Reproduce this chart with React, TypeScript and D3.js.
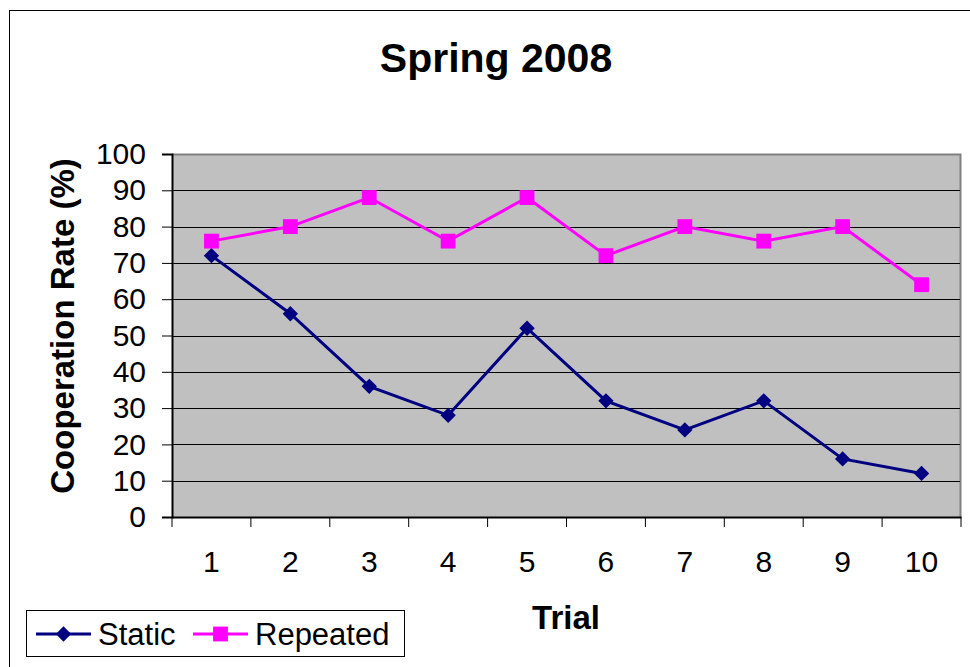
import React, { useEffect, useRef } from 'react';
import * as d3 from 'd3';

const trials = ['1', '2', '3', '4', '5', '6', '7', '8', '9', '10'];
const staticRate = [72, 56, 36, 28, 52, 32, 24, 32, 16, 12];
const repeatedRate = [76, 80, 88, 76, 88, 72, 80, 76, 80, 64];
const yTicks = [0, 10, 20, 30, 40, 50, 60, 70, 80, 90, 100];

const FONT = '"Liberation Sans", Arial, sans-serif';

export default function App() {
  const svgRef = useRef<SVGSVGElement | null>(null);

  useEffect(() => {
    if (!svgRef.current) return;
    const svg = d3.select(svgRef.current);
    svg.selectAll('*').remove();

    const width = 970;
    const height = 667;
    const plot = { left: 172, top: 154, right: 961, bottom: 517 };

    svg.attr('width', width).attr('height', height);

    // white background + outer chart border
    svg.append('rect').attr('width', width).attr('height', height).attr('fill', '#fff');
    svg.append('rect')
      .attr('x', 9.5).attr('y', 10.5)
      .attr('width', width + 20).attr('height', height + 20)
      .attr('fill', 'none').attr('stroke', '#000').attr('stroke-width', 1);

    const x = d3.scaleBand<string>().domain(trials).range([plot.left, plot.right]);
    const y = d3.scaleLinear().domain([0, 100]).range([plot.bottom, plot.top]);
    const cx = (i: number) => (x(trials[i]) as number) + x.bandwidth() / 2;

    // plot area
    svg.append('rect')
      .attr('x', plot.left).attr('y', plot.top)
      .attr('width', plot.right - plot.left).attr('height', plot.bottom - plot.top)
      .attr('fill', '#c0c0c0');
    svg.append('path')
      .attr('d', `M${plot.left},${plot.top + 0.5}H${plot.right - 0.5}V${plot.bottom}`)
      .attr('fill', 'none').attr('stroke', '#808080').attr('stroke-width', 2);

    // gridlines
    svg.append('g')
      .selectAll('line')
      .data(yTicks.filter((t) => t > 0 && t < 100))
      .enter()
      .append('line')
      .attr('x1', plot.left).attr('x2', plot.right - 1)
      .attr('y1', (d) => Math.round(y(d)) + 0.5).attr('y2', (d) => Math.round(y(d)) + 0.5)
      .attr('stroke', '#000').attr('stroke-width', 1);

    // y axis
    const yAxis = d3.axisLeft(y).tickValues(yTicks).tickSize(10).tickPadding(16);
    const yg = svg.append('g').attr('transform', `translate(${plot.left},0)`).call(yAxis);
    yg.select('.domain').attr('stroke', '#000').attr('stroke-width', 2);
    yg.selectAll('.tick line').attr('stroke', '#000');
    yg.selectAll('.tick text')
      .attr('fill', '#000')
      .style('font-family', FONT)
      .style('font-size', '30px');

    // x axis
    const xAxis = d3.axisBottom(x).tickSize(0).tickPadding(34);
    const xg = svg.append('g').attr('transform', `translate(0,${plot.bottom})`).call(xAxis);
    xg.select('.domain').attr('stroke', '#000').attr('stroke-width', 2);
    xg.selectAll('.tick text')
      .attr('fill', '#000')
      .style('font-family', FONT)
      .style('font-size', '30px');
    // category boundary ticks
    xg.selectAll('.sep')
      .data(d3.range(trials.length + 1))
      .enter()
      .append('line')
      .attr('class', 'sep')
      .attr('x1', (i) => plot.left + i * x.step()).attr('x2', (i) => plot.left + i * x.step())
      .attr('y1', 0).attr('y2', 10)
      .attr('stroke', '#000');

    // titles
    svg.append('text')
      .attr('x', 496).attr('y', 72)
      .attr('text-anchor', 'middle')
      .style('font-family', FONT).style('font-size', '41px').style('font-weight', 'bold')
      .text('Spring 2008');
    svg.append('text')
      .attr('x', 566).attr('y', 629)
      .attr('text-anchor', 'middle')
      .style('font-family', FONT).style('font-size', '33px').style('font-weight', 'bold')
      .text('Trial');
    svg.append('text')
      .attr('transform', `translate(74,326) rotate(-90)`)
      .attr('text-anchor', 'middle')
      .style('font-family', FONT).style('font-size', '33px').style('font-weight', 'bold')
      .text('Cooperation Rate (%)');

    const line = d3.line<number>().x((_, i) => cx(i)).y((d) => y(d));

    const diamond = d3.symbol().type(d3.symbolDiamond2).size(150);
    const square = d3.symbol().type(d3.symbolSquare).size(220);

    // Static series
    svg.append('path').datum(staticRate)
      .attr('d', line).attr('fill', 'none').attr('stroke', '#000080').attr('stroke-width', 3);
    svg.append('g').selectAll('path').data(staticRate).enter().append('path')
      .attr('transform', (d, i) => `translate(${cx(i)},${y(d)})`)
      .attr('d', diamond).attr('fill', '#000080');

    // Repeated series
    svg.append('path').datum(repeatedRate)
      .attr('d', line).attr('fill', 'none').attr('stroke', '#ff00ff').attr('stroke-width', 3);
    svg.append('g').selectAll('path').data(repeatedRate).enter().append('path')
      .attr('transform', (d, i) => `translate(${cx(i)},${y(d)})`)
      .attr('d', square).attr('fill', '#ff00ff');

    // legend
    const lg = svg.append('g');
    lg.append('rect')
      .attr('x', 26.5).attr('y', 610.5).attr('width', 378).attr('height', 46)
      .attr('fill', '#fff').attr('stroke', '#000').attr('stroke-width', 1);
    const items = [
      { name: 'Static', color: '#000080', sym: diamond, x0: 36, tx: 98 },
      { name: 'Repeated', color: '#ff00ff', sym: square, x0: 193, tx: 255 },
    ];
    items.forEach((it) => {
      lg.append('line')
        .attr('x1', it.x0).attr('x2', it.x0 + 55).attr('y1', 634).attr('y2', 634)
        .attr('stroke', it.color).attr('stroke-width', 3);
      lg.append('path')
        .attr('transform', `translate(${it.x0 + 27.5},634)`)
        .attr('d', it.sym).attr('fill', it.color);
      lg.append('text')
        .attr('x', it.tx).attr('y', 645)
        .style('font-family', FONT).style('font-size', '31px')
        .text(it.name);
    });
  }, []);

  return (
    <div style={{ position: 'absolute', left: 0, top: 0 }}>
      <svg ref={svgRef} style={{ display: 'block' }} />
    </div>
  );
}
